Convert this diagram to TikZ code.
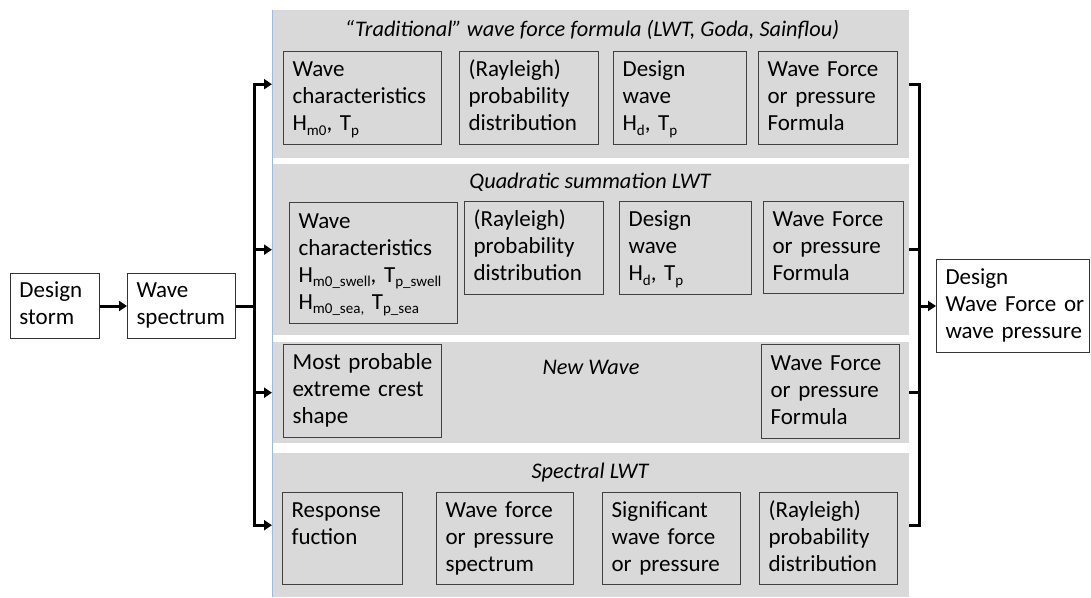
\documentclass[tikz,border=0pt]{standalone}
\usepackage{fontspec}
\setmainfont{Carlito}
\usetikzlibrary{arrows.meta}

\definecolor{bandgray}{HTML}{D9D9D9}
\definecolor{boxedge}{HTML}{404040}
\definecolor{edgeblue}{HTML}{9DB9E8}

% subscript set in the text font
\newcommand\sbs[1]{\raisebox{-0.45ex}{\fontsize{15}{15}\selectfont #1}}

% rectangular block from its top-left and bottom-right corners;
% its lines are kept whole and set flush left
\newcommand\blk[7][]{%
  \pgfmathsetmacro\bw{#5-#3}%
  \pgfmathsetmacro\bh{#6-#4}%
  \pgfmathsetmacro\tw{#5-#3-18}%
  \node[#1, anchor=north west, minimum width=\bw pt, minimum height=\bh pt,
        text width=\tw pt] (#2) at (#3,#4)
        {\begin{tabular}{@{}l@{}}#7\end{tabular}};}

\tikzset{
  txt/.style={font=\fontsize{23}{27}\selectfont, align=left, inner xsep=9pt, inner ysep=0pt},
  stepbox/.style={txt, draw=boxedge, line width=1.2pt, fill=bandgray},
  plainbox/.style={txt, draw=black!80, line width=1pt, fill=white},
  band/.style={fill=bandgray, inner sep=0pt},
  bandtitle/.style={font=\fontsize{22.3}{27}\selectfont\itshape, inner sep=0pt},
  conn/.style={line width=3pt, black},
  arr/.style={conn, -{Triangle[length=8pt,width=10pt]}},
}

\begin{document}
\begin{tikzpicture}[x=1pt, y=-1pt]
\useasboundingbox (0,0) rectangle (1091,597);

% method bands
\node[band, anchor=north west, minimum width=637pt, minimum height=148pt] (band1) at (272,10) {};
\node[band, anchor=north west, minimum width=637pt, minimum height=171pt] (band2) at (272,164) {};
\node[band, anchor=north west, minimum width=637pt, minimum height=101pt] (band3) at (272,342) {};
\node[band, anchor=north west, minimum width=637pt, minimum height=144pt] (band4) at (272,453) {};
\draw[edgeblue, line width=0.8pt] (band1.north west) -- (band4.south west);

\node[bandtitle] (t1) at (592,30) {“Traditional” wave force formula (LWT, Goda, Sainflou)};
\node[bandtitle] (t2) at (590,182) {Quadratic summation LWT};
\node[bandtitle] (t3) at (591,367) {New Wave};
\node[bandtitle] (t4) at (590,473) {Spectral LWT};

% traditional formula
\blk[stepbox]{a1}{283}{51}{441}{144}{Wave\\characteristics\\H\sbs{m0}, T\sbs{p}}
\blk[stepbox]{a2}{459}{51}{598}{144}{(Rayleigh)\\probability\\distribution}
\blk[stepbox]{a3}{613}{51}{746}{144}{Design\\wave\\H\sbs{d}, T\sbs{p}}
\blk[stepbox]{a4}{758}{51}{897}{144}{Wave Force\\or pressure\\Formula}

% quadratic summation
\blk[stepbox]{b1}{289}{202}{457}{323}{Wave\\characteristics\\H\sbs{m0\_swell}, T\sbs{p\_swell}\\H\sbs{m0\_sea,} T\sbs{p\_sea}}
\blk[stepbox]{b2}{464}{201}{603}{294}{(Rayleigh)\\probability\\distribution}
\blk[stepbox]{b3}{619}{201}{751}{294}{Design\\wave\\H\sbs{d}, T\sbs{p}}
\blk[stepbox]{b4}{763}{201}{903}{293}{Wave Force\\or pressure\\Formula}

% new wave
\blk[stepbox]{c1}{283}{344}{441}{437}{Most probable\\extreme crest\\shape}
\blk[stepbox]{c2}{761}{344}{899}{438}{Wave Force\\or pressure\\Formula}

% spectral
\blk[stepbox]{d1}{282}{492}{402}{584}{Response\\fuction\\~}
\blk[stepbox]{d2}{436}{492}{573}{584}{Wave force\\or pressure\\spectrum}
\blk[stepbox]{d3}{602}{492}{740}{584}{Significant\\wave force\\or pressure}
\blk[stepbox]{d4}{759}{492}{897}{584}{(Rayleigh)\\probability\\distribution}

% input and result
\blk[plainbox]{storm}{10}{273}{99}{338}{Design\\storm}
\blk[plainbox]{spec}{127}{273}{235}{338}{Wave\\spectrum}
\blk[plainbox]{res}{936}{259}{1089}{352}{Design\\Wave Force or\\wave pressure}

% connectors
\draw[arr] (storm) -- (spec);
\draw[conn] (spec.east) -- ++(18,0) coordinate (split);
\draw[conn] (split |- band1.west) -- (split |- band4.west);
\draw[arr] ([xshift=-1.5pt]split |- band1.west) -- (band1.west);
\draw[arr] (split |- band2.west) -- (band2.west);
\draw[arr] (split |- band3.west) -- (band3.west);
\draw[arr] ([xshift=-1.5pt]split |- band4.west) -- (band4.west);

\coordinate (join) at ([xshift=9pt]band1.east);
\draw[conn] (band1.east) -- ([xshift=1.5pt]join) -- ([xshift=1.5pt]join |- band4.east) -- (band4.east);
\draw[conn] (band2.east) -- (join |- band2.east);
\draw[conn] (band3.east) -- (join |- band3.east);
\draw[arr] (join |- res.west) -- (res.west);
\end{tikzpicture}
\end{document}
